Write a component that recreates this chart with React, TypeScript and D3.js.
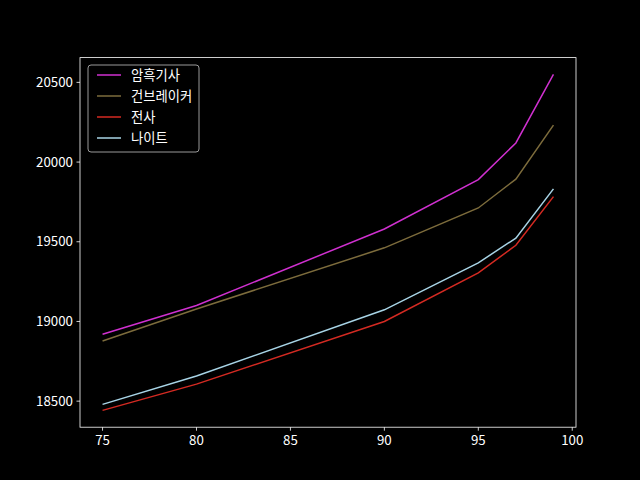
import React from "react";
import * as d3 from "d3";

const levels = [75, 80, 90, 95, 97, 99];
const seriesNames = ["암흑기사", "건브레이커", "전사", "나이트"];
const darkKnight = [18920, 19100, 19580, 19890, 20120, 20550];
const gunbreaker = [18877, 19078, 19462, 19712, 19893, 20232];
const warrior = [18442, 18607, 19000, 19305, 19478, 19783];
const paladin = [18480, 18658, 19073, 19368, 19523, 19832];
const seriesValues = [darkKnight, gunbreaker, warrior, paladin];
const seriesColors = ["#d030d0", "#7d6c3c", "#d42a22", "#a8d4e6"];
const xTicks = [75, 80, 85, 90, 95, 100];
const yTicks = [18500, 19000, 19500, 20000, 20500];

const W = 640, H = 480;
const L = 80, R = 576, T = 57.6, B = 427.2;
const font = "'Noto Sans CJK KR', 'DejaVu Sans', sans-serif";

export default function App() {
  const xMin = d3.min(levels)!, xMax = d3.max(levels)!;
  const xPad = (xMax - xMin) * 0.05;
  const all = seriesValues.flat();
  const yMin = d3.min(all)!, yMax = d3.max(all)!;
  const yPad = (yMax - yMin) * 0.05;
  const x = d3.scaleLinear().domain([xMin - xPad, xMax + xPad]).range([L, R]);
  const y = d3.scaleLinear().domain([yMin - yPad, yMax + yPad]).range([B, T]);
  const line = d3.line<number>().x((_, i) => x(levels[i])).y((v) => y(v));

  return (
    <svg width={W} height={H} style={{ position: "absolute", left: 0, top: 0, background: "#000" }}>
      <rect x={0} y={0} width={W} height={H} fill="#000" />
      {seriesValues.map((s, i) => (
        <path key={i} d={line(s) || ""} fill="none" stroke={seriesColors[i]} strokeWidth={1.5} />
      ))}
      <rect x={L} y={T} width={R - L} height={B - T} fill="none" stroke="#fff" strokeWidth={0.8} />
      {xTicks.map((t) => (
        <g key={t}>
          <line x1={x(t)} x2={x(t)} y1={B} y2={B + 3.5} stroke="#fff" strokeWidth={0.8} />
          <text x={x(t)} y={B + 18} fill="#fff" fontSize={13.3} fontFamily={font} textAnchor="middle">{t}</text>
        </g>
      ))}
      {yTicks.map((t) => (
        <g key={t}>
          <line x1={L - 3.5} x2={L} y1={y(t)} y2={y(t)} stroke="#fff" strokeWidth={0.8} />
          <text x={L - 7} y={y(t)} dy="0.35em" fill="#fff" fontSize={13.3} fontFamily={font} textAnchor="end">{t}</text>
        </g>
      ))}
      <rect x={88} y={65} width={111} height={87} rx={3} fill="#000" fillOpacity={0.8} stroke="#999" strokeWidth={1} />
      {seriesNames.map((n, i) => {
        const yy = 75 + i * 21;
        return (
          <g key={n}>
            <line x1={97} x2={121} y1={yy} y2={yy} stroke={seriesColors[i]} strokeWidth={1.5} />
            <text x={131} y={yy} dy="0.35em" fill="#fff" fontSize={13.3} fontFamily={font}>{n}</text>
          </g>
        );
      })}
    </svg>
  );
}
